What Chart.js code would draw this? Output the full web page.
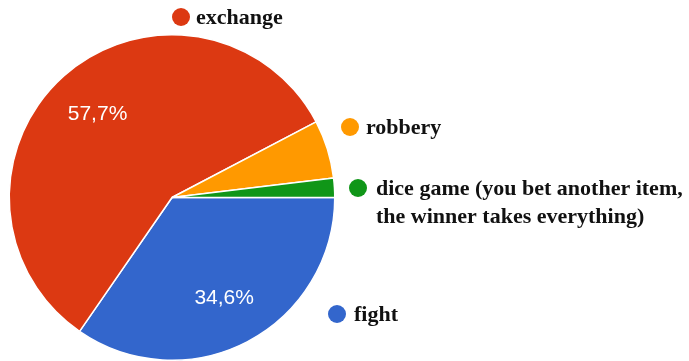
<!DOCTYPE html>
<html>
<head>
<meta charset="utf-8">
<script src="https://cdn.jsdelivr.net/npm/chart.js@4"></script>
<style>
  html, body { margin: 0; padding: 0; background: #fff; }
  #wrap { width: 689px; height: 361px; position: relative; }
</style>
</head>
<body>
<div id="wrap"><canvas id="myChart" width="689" height="361"></canvas></div>
<script>
// answers, in the order they go round the pie from 3 o'clock
const categories = ['fight', 'exchange', 'robbery', 'dice game (you bet another item,\nthe winner takes everything)'];
const counts = [18, 30, 3, 1];
const colors = ['#3366cc', '#dc3912', '#ff9900', '#109618'];

// where each legend entry sits next to the pie: dot centre + text start
const legendSpots = [
  { dot: [337, 314], text: 354 },
  { dot: [181, 17], text: 196 },
  { dot: [350, 127], text: 366 },
  { dot: [358, 188], text: 376 }
];

function pct(i) {
  const total = counts.reduce((a, b) => a + b, 0);
  return (counts[i] / total * 100).toFixed(1).replace('.', ',') + '%';
}

// percentage text inside the big slices
const sliceLabels = {
  id: 'sliceLabels',
  afterDatasetsDraw(chart) {
    const ctx = chart.ctx;
    const meta = chart.getDatasetMeta(0);
    ctx.save();
    ctx.fillStyle = '#fff';
    ctx.font = '21px "Liberation Sans", Arial, sans-serif';
    ctx.textAlign = 'center';
    ctx.textBaseline = 'middle';
    meta.data.forEach(function (arc, i) {
      const share = counts[i] / counts.reduce((a, b) => a + b, 0);
      if (share < 0.1) return;
      const mid = (arc.startAngle + arc.endAngle) / 2;
      const r = arc.outerRadius * 0.69;
      ctx.fillText(pct(i), arc.x + Math.cos(mid) * r, arc.y + Math.sin(mid) * r + 1);
    });
    ctx.restore();
  }
};

// legend drawn beside the slices instead of the built-in box
const sideLegend = {
  id: 'sideLegend',
  afterDraw(chart) {
    const ctx = chart.ctx;
    ctx.save();
    ctx.font = 'bold 22px "Liberation Serif", "Times New Roman", serif';
    ctx.textBaseline = 'middle';
    categories.forEach(function (name, i) {
      const s = legendSpots[i];
      ctx.fillStyle = colors[i];
      ctx.beginPath();
      ctx.arc(s.dot[0], s.dot[1], 9, 0, Math.PI * 2);
      ctx.fill();
      ctx.fillStyle = '#111';
      name.split('\n').forEach(function (line, k) {
        ctx.fillText(line, s.text, s.dot[1] + 1 + k * 28);
      });
    });
    ctx.restore();
  }
};

const ctx = document.getElementById('myChart').getContext('2d');
const myChart = new Chart(ctx, {
  type: 'pie',
  data: {
    labels: categories,
    datasets: [{
      data: counts,
      backgroundColor: colors,
      borderColor: '#fff',
      borderWidth: 1.5
    }]
  },
  options: {
    responsive: false,
    animation: false,
    rotation: 90,
    layout: { padding: { left: 6, right: 351, top: 34, bottom: 0 } },
    plugins: {
      legend: { display: false },
      tooltip: { enabled: false }
    }
  },
  plugins: [sliceLabels, sideLegend]
});
</script>
</body>
</html>
